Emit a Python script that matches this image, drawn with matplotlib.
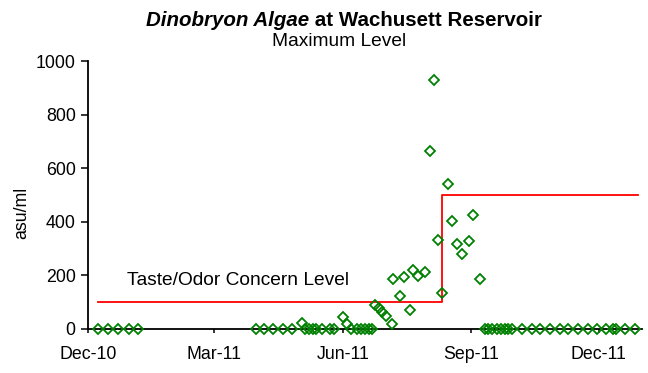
import numpy as np
import pandas as pd
import matplotlib
matplotlib.use('Agg')
import matplotlib.pyplot as plt
import matplotlib.dates as mdates

plt.rcParams['font.family'] = ['Liberation Sans', 'DejaVu Sans']

# Weekly / bi-weekly samples, maximum Dinobryon count (asu/ml)
sample_dates = [
    '2010-12-08', '2010-12-15', '2010-12-22', '2010-12-30', '2011-01-06',
    '2011-03-31', '2011-04-06', '2011-04-12', '2011-04-19', '2011-04-26',
    '2011-05-03', '2011-05-05', '2011-05-08', '2011-05-11', '2011-05-13',
    '2011-05-17', '2011-05-23', '2011-05-26', '2011-06-01', '2011-06-04',
    '2011-06-07', '2011-06-11', '2011-06-14', '2011-06-17', '2011-06-20',
    '2011-06-22', '2011-06-24', '2011-06-27', '2011-06-29', '2011-07-02',
    '2011-07-06', '2011-07-07', '2011-07-12', '2011-07-15', '2011-07-19',
    '2011-07-21', '2011-07-25', '2011-07-30', '2011-08-02', '2011-08-05',
    '2011-08-08', '2011-08-11', '2011-08-15', '2011-08-18', '2011-08-22',
    '2011-08-25', '2011-08-30', '2011-09-02', '2011-09-07',
    '2011-09-11', '2011-09-13', '2011-09-16', '2011-09-19', '2011-09-22',
    '2011-09-25', '2011-09-27', '2011-09-30', '2011-10-07', '2011-10-14',
    '2011-10-20', '2011-10-27', '2011-11-03', '2011-11-09', '2011-11-16',
    '2011-11-23', '2011-11-30', '2011-12-06', '2011-12-11', '2011-12-13',
    '2011-12-20', '2011-12-27',
]
asu_ml = [
    0, 0, 0, 0, 0,
    0, 0, 0, 0, 0,
    22, 0, 0, 0, 0,
    0, 0, 0, 45, 20,
    0, 0, 0, 0, 0,
    0, 88, 78, 65, 50,
    18, 185, 123, 194, 71,
    220, 198, 213, 664, 929,
    332, 134, 541, 403, 317,
    280, 328, 425, 187,
    0, 0, 0, 0, 0,
    0, 0, 0, 0, 0,
    0, 0, 0, 0, 0,
    0, 0, 0, 0, 0,
    0, 0,
]

# Taste/odor concern threshold (changes in August)
concern_dates = ['2010-12-08', '2011-08-11', '2011-08-11', '2011-12-29']
concern_level = [100, 100, 500, 500]

dates = pd.to_datetime(sample_dates)
cdates = pd.to_datetime(concern_dates)

fig = plt.figure(figsize=(6.48, 3.73), dpi=100)
ax = fig.add_axes([0.136, 0.118, 0.855, 0.718])

ax.plot(cdates, concern_level, color='#ff0000', lw=1.3, zorder=2)
ax.plot(dates, asu_ml, ls='none', marker='D', ms=5.2, mfc='none',
        mec='#008000', mew=1.3, zorder=3, clip_on=False)

ax.set_xlim(pd.Timestamp('2010-12-01'), pd.Timestamp('2012-01-01'))
ax.set_ylim(0, 1000)
ax.set_yticks(np.arange(0, 1001, 200))
ax.xaxis.set_major_locator(mdates.MonthLocator(bymonth=[3, 6, 9, 12]))
ax.xaxis.set_major_formatter(mdates.DateFormatter('%b-%y'))

for s in ['top', 'right']:
    ax.spines[s].set_visible(False)
for s in ['left', 'bottom']:
    ax.spines[s].set_linewidth(1.3)
ax.tick_params(axis='both', direction='out', width=1.1, labelsize=12.8, colors='black')
ax.tick_params(axis='y', length=5, pad=4)
ax.tick_params(axis='x', length=3, pad=9)

ax.set_ylabel('asu/ml', fontsize=12.8)
ax.yaxis.set_label_coords(-0.104, 0.433)

ax.text(pd.Timestamp('2010-12-29'), 182, 'Taste/Odor Concern Level',
        fontsize=13.8, ha='left', va='center')

# Title: italic genus name followed by plain bold text, centred as one line
t1 = fig.text(0, 0.944, 'Dinobryon Algae', fontsize=14.8, weight='bold',
              style='italic', va='center', ha='left')
t2 = fig.text(0, 0.944, ' at Wachusett Reservoir', fontsize=14.8, weight='bold',
              va='center', ha='left')
fig.canvas.draw()
r = fig.canvas.get_renderer()
w1 = t1.get_window_extent(r).width
w2 = t2.get_window_extent(r).width
W = fig.bbox.width
x0 = (344 - (w1 + w2) / 2) / W
t1.set_x(x0)
t2.set_x(x0 + w1 / W)
fig.text(339 / W, 0.889, 'Maximum Level', fontsize=13.8, ha='center', va='center')

fig.savefig('out.png', dpi=100)
